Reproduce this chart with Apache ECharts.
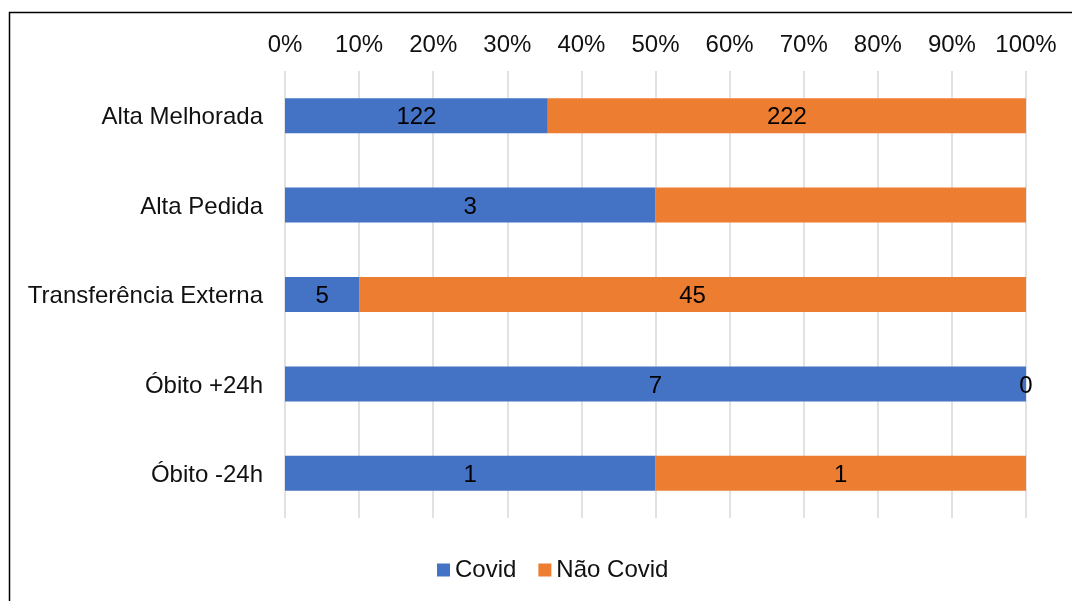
<!DOCTYPE html>
<html>
<head>
<meta charset="utf-8">
<script src="https://cdn.jsdelivr.net/npm/echarts@6/dist/echarts.min.js"></script>
<style>
  html, body { margin: 0; padding: 0; background: #fff; }
  #chart { width: 1072px; height: 601px; }
</style>
</head>
<body>
<div id="chart"></div>
<script>
// Discharge outcomes, split by Covid / non-Covid (counts)
const categories = ['Alta Melhorada', 'Alta Pedida', 'Transferência Externa', 'Óbito +24h', 'Óbito -24h'];
const covid = [122, 3, 5, 7, 1];
const naoCovid = [222, 3, 45, 0, 1];
// Value labels hidden on these series points
const hiddenNaoCovidLabels = [1];
const tickLabels = ['0%', '10%', '20%', '30%', '40%', '50%', '60%', '70%', '80%', '90%', '100%'];

const FONT = 'Liberation Sans, Arial, Helvetica, sans-serif';
const TEXT = '#111';

const totals = categories.map((_, i) => covid[i] + naoCovid[i]);
const toPct = (arr) => arr.map((v, i) => ({ value: totals[i] ? v / totals[i] * 100 : 0, raw: v }));

const covidData = toPct(covid);
const naoCovidData = toPct(naoCovid).map((d, i) =>
  hiddenNaoCovidLabels.includes(i) ? Object.assign(d, { label: { show: false } }) : d);

const labelStyle = {
  show: true,
  position: 'inside',
  offset: [0, 2],
  color: '#000',
  fontSize: 24,
  fontFamily: FONT,
  formatter: (p) => String(p.data.raw)
};

const chart = echarts.init(document.getElementById('chart'), null, { renderer: 'canvas' });
chart.setOption({
  animation: false,
  backgroundColor: '#fff',
  graphic: [{
    type: 'rect',
    shape: { x: 9.5, y: 12.5, width: 1200, height: 800 },
    style: { fill: 'none', stroke: '#000', lineWidth: 1.5 },
    silent: true,
    z: -1
  }],
  grid: { left: 285, right: 46, top: 71, bottom: 83, containLabel: false },
  legend: {
    top: 553,
    left: 432,
    itemWidth: 13,
    itemHeight: 13,
    itemGap: 22,
    icon: 'rect',
    textStyle: { fontSize: 24, fontFamily: FONT, color: TEXT },
    data: ['Covid', 'Não Covid']
  },
  xAxis: {
    type: 'value',
    position: 'top',
    min: 0,
    max: 100,
    interval: 10,
    axisLine: { show: false },
    axisTick: { show: false },
    splitLine: { show: true, lineStyle: { color: '#d9d9d9', width: 1.5 } },
    axisLabel: {
      margin: 14,
      fontSize: 24,
      fontFamily: FONT,
      color: TEXT,
      formatter: (v) => tickLabels[Math.round(v / 10)]
    }
  },
  yAxis: {
    type: 'category',
    inverse: true,
    data: categories,
    axisLine: { show: false },
    axisTick: { show: false },
    axisLabel: {
      margin: 22,
      formatter: (v) => '{c|' + v + '}',
      rich: {
        c: { fontSize: 24, fontFamily: FONT, color: TEXT, padding: [4, 0, 0, 0] }
      }
    }
  },
  series: [
    {
      name: 'Covid',
      type: 'bar',
      stack: 'total',
      barWidth: 35,
      itemStyle: { color: '#4472C4' },
      label: labelStyle,
      data: covidData
    },
    {
      name: 'Não Covid',
      type: 'bar',
      stack: 'total',
      barWidth: 35,
      itemStyle: { color: '#ED7D31' },
      label: labelStyle,
      data: naoCovidData
    }
  ]
});
</script>
</body>
</html>
